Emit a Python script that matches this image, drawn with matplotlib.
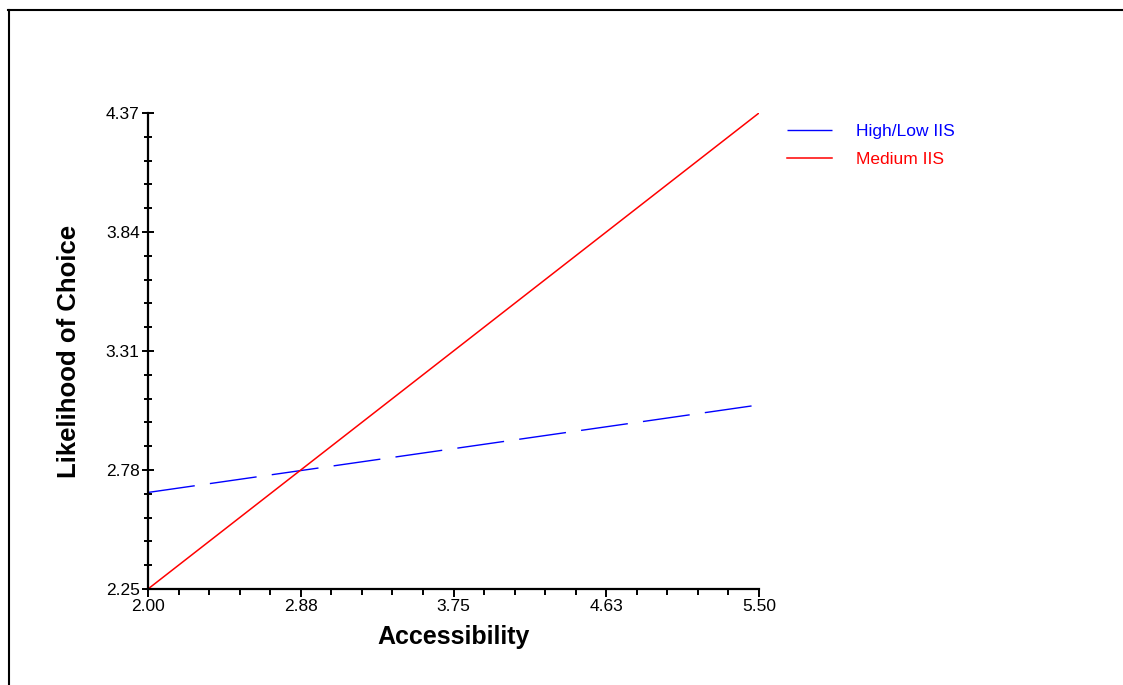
import matplotlib
matplotlib.use("Agg")
import matplotlib.pyplot as plt
from matplotlib.lines import Line2D
from matplotlib.ticker import AutoMinorLocator

plt.rcParams['font.family'] = ['Liberation Sans', 'DejaVu Sans']

# Data
x_vals = [2.00, 5.50]
high_low_iis = [2.68, 3.07]
medium_iis = [2.25, 4.37]
series_labels = ["High/Low IIS", "Medium IIS"]
x_ticks = [2.00, 2.875, 3.75, 4.625, 5.50]
x_tick_labels = ["2.00", "2.88", "3.75", "4.63", "5.50"]
y_ticks = [2.25, 2.78, 3.31, 3.84, 4.37]
y_tick_labels = ["2.25", "2.78", "3.31", "3.84", "4.37"]

W, H = 1123, 685
fig = plt.figure(figsize=(W / 100, H / 100), dpi=100)
ax = fig.add_axes([148 / W, 1 - 589 / H, (759 - 148) / W, (589 - 113) / H])

ax.plot(x_vals, high_low_iis, color='#0000ff', lw=1.0, dashes=(34, 11),
        label=series_labels[0])
ax.plot(x_vals, medium_iis, color='#ff0000', lw=1.1, label=series_labels[1])

ax.set_xlim(2.00, 5.50)
ax.set_ylim(2.25, 4.37)
ax.set_xticks(x_ticks)
ax.set_xticklabels(x_tick_labels)
ax.set_yticks(y_ticks)
ax.set_yticklabels(y_tick_labels)
ax.xaxis.set_minor_locator(AutoMinorLocator(5))
ax.yaxis.set_minor_locator(AutoMinorLocator(5))

for s in ['top', 'right']:
    ax.spines[s].set_visible(False)
for s in ['left', 'bottom']:
    ax.spines[s].set_linewidth(1.6)
    ax.spines[s].set_color('black')

ax.tick_params(axis='x', which='major', direction='out', length=6, width=1.4,
               labelsize=12.5, pad=1)
ax.tick_params(axis='x', which='minor', direction='out', length=4, width=1.4)
ax.tick_params(axis='y', which='major', direction='inout', length=8, width=1.4,
               labelsize=12.5, pad=2)
ax.tick_params(axis='y', which='minor', direction='inout', length=6, width=1.4)

ax.set_xlabel("Accessibility", fontsize=18, fontweight='bold', labelpad=8)
ax.set_ylabel("Likelihood of Choice", fontsize=18.5, fontweight='bold', labelpad=18)

leg = ax.legend(loc='upper left', bbox_to_anchor=(1.02, 1.01), frameon=False,
                fontsize=12.5, handlelength=2.6, handletextpad=1.4,
                labelspacing=0.72, labelcolor='linecolor')

# Outer frame (top and left lines)
fig.add_artist(Line2D([8 / W, 1.0], [1 - 10 / H, 1 - 10 / H], color='black', lw=1.5,
                      transform=fig.transFigure))
fig.add_artist(Line2D([9 / W, 9 / W], [1 - 10 / H, 0.0], color='black', lw=1.5,
                      transform=fig.transFigure))

fig.savefig("out.png", dpi=100)
